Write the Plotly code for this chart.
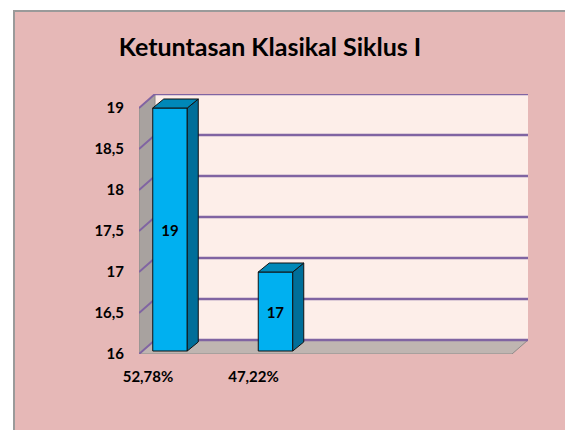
import plotly.graph_objects as go

# ---------------- data ----------------
categories = ["52,78%", "47,22%"]
values = [19, 17]
y_ticks = [16, 16.5, 17, 17.5, 18, 18.5, 19]
y_tick_labels = ["16", "16,5", "17", "17,5", "18", "18,5", "19"]
title_text = "Ketuntasan Klasikal Siklus I"

# ---------------- layout geometry (pixels, window coords) ----------------
WIN_W, WIN_H = 573, 430
BODY = 8                                     # default page body margin
W, H = WIN_W - BODY, WIN_H - BODY
PL, PR, PT, PB = 139 - BODY, 528 - BODY, 94 - BODY, 354 - BODY
DX_PX, DY_PX = 16, 14                        # depth of the 3-D box
FRONT_RIGHT_PX = 512 - BODY
CAT0_PX, CAT_STEP_PX = 170 - BODY, 105.5
Y_SCALE = 82.0                               # px per unit on y
BAR_W_PX, BAR_DX_PX, BAR_DY_PX, LIFT_PX = 34.5, 11, 9, 3

Y_MIN = y_ticks[0]
Y_MAX_RANGE = Y_MIN + (PB - PT) / Y_SCALE
X_MIN = (PL - CAT0_PX) / CAT_STEP_PX
X_MAX = (PR - CAT0_PX) / CAT_STEP_PX
x0 = X_MIN
x1 = (FRONT_RIGHT_PX - CAT0_PX) / CAT_STEP_PX
dx = DX_PX / CAT_STEP_PX
dy = DY_PX / Y_SCALE
bw = BAR_W_PX / CAT_STEP_PX
bdx = BAR_DX_PX / CAT_STEP_PX
bdy = BAR_DY_PX / Y_SCALE
lift = LIFT_PX / Y_SCALE
base = Y_MIN + lift

PANEL = "#E6B8B7"
BACK = "#FDEEE9"
LEFTWALL = "#A8A29F"
FLOOR = "#BFB5B1"
GRID = "#8064A2"
FRONT = "#00B0F0"
SIDE = "#006E99"
TOP = "#0088B8"
FONT = "Lato"


def poly(pts):
    return "M " + " L ".join(f"{px},{py}" for px, py in pts) + " Z"


def to_paper(px, py):
    return (px - PL) / (PR - PL), (PB - py) / (PB - PT)


shapes = []
# pink panel
px0, py0 = to_paper(14 - BODY, 11 - BODY)
px1, py1 = to_paper(W + 10, H + 10)
shapes.append(dict(type="rect", xref="paper", yref="paper", x0=px0, y0=py1, x1=px1, y1=py0,
                   fillcolor=PANEL, line=dict(color="#9A9A9A", width=2), layer="below"))
# back wall
ymax = y_ticks[-1]
shapes.append(dict(type="rect", xref="x", yref="y", x0=x0 + dx, x1=x1 + dx,
                   y0=Y_MIN + dy, y1=ymax + dy, fillcolor=BACK, line=dict(width=0), layer="below"))
# left wall
shapes.append(dict(type="path", xref="x", yref="y",
                   path=poly([(x0, Y_MIN), (x0, ymax), (x0 + dx, ymax + dy), (x0 + dx, Y_MIN + dy)]),
                   fillcolor=LEFTWALL, line=dict(color="#8E8A88", width=1), layer="below"))
# floor
shapes.append(dict(type="path", xref="x", yref="y",
                   path=poly([(x0, Y_MIN), (x1, Y_MIN), (x1 + dx, Y_MIN + dy), (x0 + dx, Y_MIN + dy)]),
                   fillcolor=FLOOR, line=dict(color="#8E8A88", width=1), layer="below"))
# gridlines on back wall + diagonals on left wall
for t in y_ticks:
    shapes.append(dict(type="line", xref="x", yref="y", x0=x0 + dx, x1=x1 + dx,
                       y0=t + dy, y1=t + dy, line=dict(color=GRID, width=2.6), layer="below"))
    shapes.append(dict(type="line", xref="x", yref="y", x0=x0, x1=x0 + dx,
                       y0=t, y1=t + dy, line=dict(color=GRID, width=2), layer="below"))

# bar 3-D faces
for i, v in enumerate(values):
    xl = i - bw / 2
    xr = i + bw / 2
    shapes.append(dict(type="path", xref="x", yref="y",
                       path=poly([(xr, base), (xr, v), (xr + bdx, v + bdy), (xr + bdx, base + bdy)]),
                       fillcolor=SIDE, line=dict(color="#111111", width=1), layer="above"))
    shapes.append(dict(type="path", xref="x", yref="y",
                       path=poly([(xl, v), (xr, v), (xr + bdx, v + bdy), (xl + bdx, v + bdy)]),
                       fillcolor=TOP, line=dict(color="#111111", width=1), layer="above"))

fig = go.Figure()
fig.add_trace(go.Bar(
    x=list(range(len(values))),
    y=[v - base for v in values],
    base=base,
    width=bw,
    marker=dict(color=FRONT, line=dict(color="#111111", width=1)),
    text=[str(v) for v in values],
    textposition="inside",
    insidetextanchor="middle",
    textangle=0,
    textfont=dict(family=FONT, size=15, color="black", weight="bold"),
    hoverinfo="skip",
))

fig.update_layout(
    width=W, height=H,
    margin=dict(l=PL, r=W - PR, t=PT, b=H - PB, pad=0),
    paper_bgcolor="white",
    plot_bgcolor="rgba(0,0,0,0)",
    showlegend=False,
    shapes=shapes,
    title=dict(text=f"<b>{title_text}</b>", x=(270 - BODY) / W, xref="container", xanchor="center",
               y=1 - (47 - BODY) / H, yref="container", yanchor="middle",
               font=dict(family=FONT, size=25, color="black")),
    xaxis=dict(range=[X_MIN, X_MAX], tickvals=list(range(len(categories))), ticktext=categories,
               showgrid=False, zeroline=False, showline=False, ticks="",
               ticklabelshift=-22, ticklabelstandoff=12,
               tickfont=dict(family=FONT, size=15, color="black", weight="bold")),
    yaxis=dict(range=[Y_MIN, Y_MAX_RANGE], tickvals=y_ticks, ticktext=y_tick_labels,
               showgrid=False, zeroline=False, showline=False, ticks="",
               ticklabelstandoff=14,
               tickfont=dict(family=FONT, size=15, color="black", weight="bold")),
)

fig.write_html("out.html")
